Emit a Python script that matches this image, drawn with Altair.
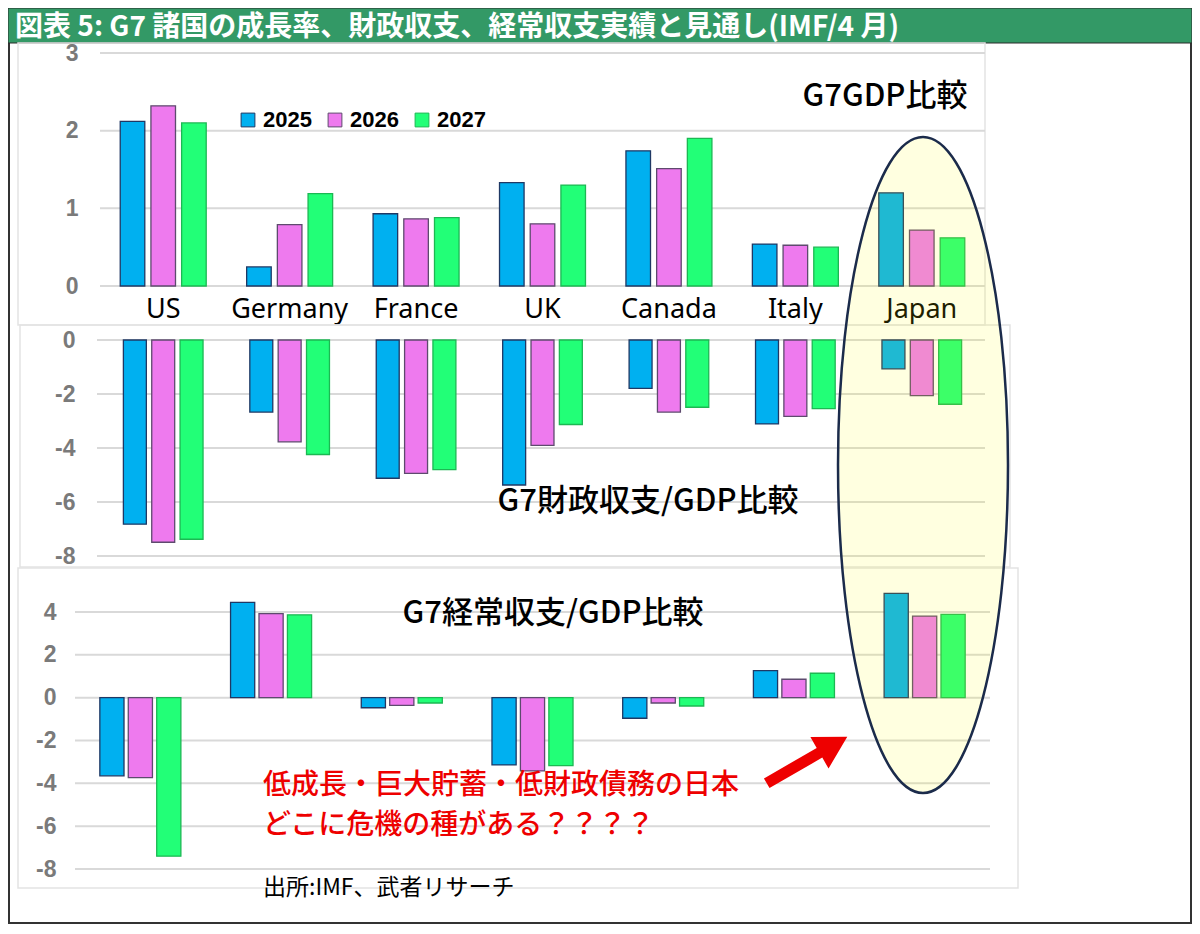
import altair as alt
import pandas as pd

# ---------------- data ----------------
countries = ["US", "Germany", "France", "UK", "Canada", "Italy", "Japan"]
years = ["2025", "2026", "2027"]

gdp_2025 = [2.12, 0.245, 0.93, 1.33, 1.74, 0.54, 1.20]
gdp_2026 = [2.32, 0.79, 0.865, 0.80, 1.51, 0.525, 0.72]
gdp_2027 = [2.10, 1.19, 0.88, 1.30, 1.90, 0.50, 0.62]

fiscal_2025 = [-6.82, -2.67, -5.12, -5.37, -1.79, -3.11, -1.07]
fiscal_2026 = [-7.49, -3.77, -4.94, -3.90, -2.67, -2.83, -2.06]
fiscal_2027 = [-7.38, -4.24, -4.80, -3.13, -2.49, -2.54, -2.38]

ca_2025 = [-3.65, 4.45, -0.47, -3.14, -0.96, 1.26, 4.87]
ca_2026 = [-3.73, 3.92, -0.36, -3.42, -0.25, 0.86, 3.81]
ca_2027 = [-7.40, 3.87, -0.25, -3.17, -0.39, 1.14, 3.89]

gdp_ticks = [0, 1, 2, 3]
fiscal_ticks = [-8, -6, -4, -2, 0]
ca_ticks = [-8, -6, -4, -2, 0, 2, 4]

fill_colors = ["#00B0F0", "#EE7AEE", "#22FF77"]
stroke_colors = ["#1F3864", "#5E4A6E", "#1CB853"]

title_text = "図表 5: G7 諸国の成長率、財政収支、経常収支実績と見通し(IMF/4 月)"
note1 = "低成長・巨大貯蓄・低財政債務の日本"
note2 = "どこに危機の種がある？？？？"
source_text = "出所:IMF、武者リサーチ"


def long_df(v25, v26, v27):
    rows = []
    for i, c in enumerate(countries):
        for y, vals in zip(years, [v25, v26, v27]):
            rows.append({"country": c, "year": y, "value": vals[i]})
    return pd.DataFrame(rows)


W, H = 1184, 916
JP = "Noto Sans CJK JP"
dummy = pd.DataFrame({"d": [0]})


def P(v):  # page pixel -> plot pixel
    return v - 8


color_enc = alt.Color(
    "year:N",
    scale=alt.Scale(domain=years, range=fill_colors),
    legend=alt.Legend(
        title=None, orient="none", legendX=P(237), legendY=P(109),
        direction="horizontal", symbolType="square", symbolSize=190,
        symbolStrokeColor="#404040", symbolStrokeWidth=1,
        labelFontSize=22, labelFontWeight="bold", labelFont="Liberation Sans",
        labelColor="black", labelOffset=4, columnPadding=12, padding=0,
    ),
)
stroke_enc = alt.Stroke("year:N", scale=alt.Scale(domain=years, range=stroke_colors), legend=None)


def panel(df, ticks, ydom, yrange, xrange, pad_in, off_pad, axis_offset, grid_x, show_x):
    yenc = alt.Y(
        "value:Q",
        scale=alt.Scale(domain=ydom, range=yrange, nice=False, zero=False),
        axis=alt.Axis(values=ticks, orient="left", offset=axis_offset, grid=False,
                      domain=False, ticks=False, tickSize=0, labelPadding=0,
                      labelExpr="'' + datum.value",
                      labelFontSize=23, labelFont="Liberation Sans", labelFontWeight="bold",
                      labelColor="#7A7A7A"),
        title=None,
    )
    if show_x:
        xaxis = alt.Axis(orient="bottom", offset=-(H - yrange[0]), domain=False, ticks=False,
                         labelPadding=10, labelFontSize=27, labelFont="Noto Sans",
                         labelColor="black", labelAngle=0)
    else:
        xaxis = None
    xenc = alt.X("country:N", sort=countries,
                 scale=alt.Scale(domain=countries, range=xrange, paddingInner=pad_in,
                                 paddingOuter=pad_in / 2),
                 axis=xaxis, title=None)
    grid = alt.Chart(pd.DataFrame({"value": ticks})).mark_rule(
        color="#D9D9D9", strokeWidth=2
    ).encode(y=yenc, x=alt.value(grid_x[0]), x2=alt.value(grid_x[1]))
    bars = alt.Chart(df).mark_bar(strokeWidth=1.3).encode(
        x=xenc,
        xOffset=alt.XOffset("year:N", sort=years,
                            scale=alt.Scale(domain=years, paddingInner=off_pad, paddingOuter=0)),
        y=yenc,
        color=color_enc,
        stroke=stroke_enc,
    )
    return alt.layer(grid, bars)


p1 = panel(long_df(gdp_2025, gdp_2026, gdp_2027), gdp_ticks, [0, 3], [P(286), P(53)],
           [P(100), P(985)], 0.32, 0.2, -P(78), [P(100), P(985)], True)
p2 = panel(long_df(fiscal_2025, fiscal_2026, fiscal_2027), fiscal_ticks, [-8, 0], [P(556), P(340)],
           [P(100), P(985)], 0.37, 0.19, -P(75), [P(97), P(985)], False)
p3 = panel(long_df(ca_2025, ca_2026, ca_2027), ca_ticks, [-8, 4], [P(869), P(612)],
           [P(75), P(990)], 0.38, 0.15, -P(56), [P(75), P(990)], False)


def rect(x0, y0, x1, y1, **kw):
    return alt.Chart(dummy).mark_rect(**kw).encode(
        x=alt.value(x0), x2=alt.value(x1), y=alt.value(y0), y2=alt.value(y1))


def txt(s, x, y, size, color="black", weight="normal", align="center", font=JP):
    return alt.Chart(dummy).mark_text(
        text=s, fontSize=size, color=color, fontWeight=weight, align=align,
        baseline="middle", font=font
    ).encode(x=alt.value(P(x)), y=alt.value(P(y)))


frame = rect(1, 1, W - 1, H - 1, fill="transparent", stroke="#333333", strokeWidth=2)
banner = rect(0, 0, W, P(43), fill="#339966", stroke="#2A2A2A", strokeWidth=1)
box1 = rect(P(18), P(43), P(985), P(325), fill="transparent", stroke="#E3E3E3", strokeWidth=1.5)
box2 = rect(P(20), P(325), P(1010), P(567), fill="transparent", stroke="#E3E3E3", strokeWidth=1.5)
box3 = rect(P(18), P(568), P(1018), P(888), fill="transparent", stroke="#E3E3E3", strokeWidth=1.5)

# ellipse (custom symbol, bezier approximation in unit box)
a = 85 / 328
k = 0.5523
ka = k * a
ell_path = (
    f"M0,-1 C{ka:.4f},-1 {a:.4f},-{k} {a:.4f},0 "
    f"C{a:.4f},{k} {ka:.4f},1 0,1 "
    f"C-{ka:.4f},1 -{a:.4f},{k} -{a:.4f},0 "
    f"C-{a:.4f},-{k} -{ka:.4f},-1 0,-1 Z"
)
ellipse = alt.Chart(dummy).mark_point(
    shape=ell_path, size=656 ** 2, filled=True, fill="#FFFF00", fillOpacity=0.12,
    stroke="#1B2B4B", strokeWidth=2.5, opacity=1,
).encode(x=alt.value(P(923)), y=alt.value(P(465)))

arrow_path = "M0,-1 L0.39,-0.31 L0.12,-0.31 L0.12,1 L-0.12,1 L-0.12,-0.31 L-0.39,-0.31 Z"
arrow = alt.Chart(dummy).mark_point(
    shape=arrow_path, size=93 ** 2, filled=True, fill="#EE0000", strokeWidth=0, opacity=1,
    angle=60,
).encode(x=alt.value(P(807)), y=alt.value(P(760)))

texts = [
    txt(title_text, 15, 28, 28, color="white", weight="bold", align="left"),
    txt("G7GDP比較", 885, 97, 31, weight=500),
    txt("G7財政収支/GDP比較", 648, 502, 31, weight=500),
    txt("G7経常収支/GDP比較", 553, 614, 31, weight=500),
    txt(note1, 263, 786, 28, color="#EE0000", weight=500, align="left"),
    txt(note2, 263, 826, 28, color="#EE0000", weight=500, align="left"),
    txt(source_text, 263, 888, 23, align="left"),
]

chart = alt.layer(
    frame, banner, box1, box2, box3, p1, p2, p3, ellipse, arrow, *texts
).resolve_scale(
    x="independent", y="independent", xOffset="independent"
).resolve_axis(
    x="independent", y="independent"
).properties(
    width=W, height=H, autosize=alt.AutoSizeParams(type="none"), padding=0
).configure_view(stroke=None)

chart.save("out.html", embed_options={"renderer": "svg", "actions": False})
